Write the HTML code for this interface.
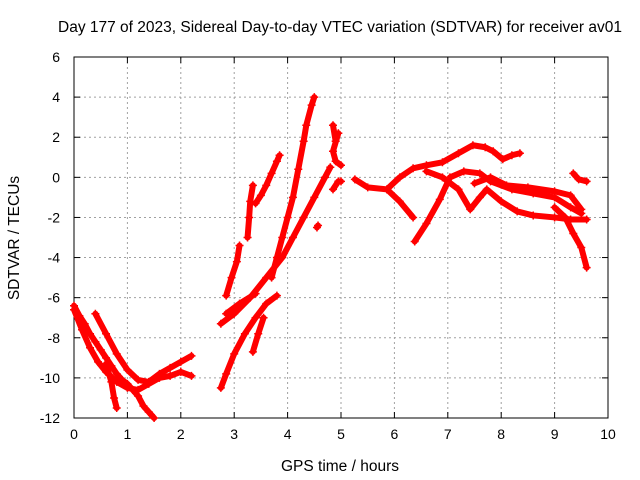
<!DOCTYPE html>
<html><head><meta charset="utf-8"><style>
body{margin:0;background:#fff}
svg{display:block;font-family:"Liberation Sans",sans-serif}
</style></head><body>
<svg id="chart" width="640" height="480">
<text x="340" y="32" font-size="15.5" text-anchor="middle">Day 177 of 2023, Sidereal Day-to-day VTEC variation (SDTVAR) for receiver av01</text>
<g id="grid"></g>
<g id="axes"></g>
<g id="marks"></g>
<text x="340" y="471" font-size="15.5" text-anchor="middle">GPS time / hours</text>
<text transform="translate(19,238) rotate(-90)" font-size="15.5" text-anchor="middle">SDTVAR / TECUs</text>
</svg>
<script>
const xTicks=[0,1,2,3,4,5,6,7,8,9,10];
const yTicks=[6,4,2,0,-2,-4,-6,-8,-10,-12];
const track1=[[0,-6.4],[0.1,-6.9],[0.2,-7.3],[0.3,-7.8],[0.4,-8.2],[0.5,-8.6],[0.6,-9.0],[0.7,-9.4],[0.8,-9.8],[0.9,-10.1],[1.0,-10.3],[1.1,-10.6],[1.2,-10.9],[1.3,-11.4],[1.4,-11.7],[1.5,-12]];
const track2=[[0,-6.6],[0.15,-7.6],[0.3,-8.5],[0.45,-9.2],[0.6,-9.7],[0.8,-10.2],[1.0,-10.5],[1.2,-10.6],[1.4,-10.3],[1.6,-10.0],[1.8,-9.9],[2.0,-9.7],[2.2,-9.9]];
const track3=[[0.4,-6.8],[0.6,-7.8],[0.8,-8.8],[1.0,-9.6],[1.2,-10.1],[1.4,-10.2],[1.6,-9.8],[1.8,-9.5],[2.0,-9.2],[2.2,-8.9]];
const track4=[[0.6,-9.3],[0.7,-10.2],[0.75,-11.0],[0.8,-11.5]];
const track5=[[2.75,-10.5],[2.85,-9.8],[3.0,-8.8],[3.2,-7.8],[3.4,-7.0],[3.6,-6.3],[3.8,-5.9]];
const track6=[[2.75,-7.3],[3.0,-6.8],[3.3,-6.0],[3.6,-5.0],[3.9,-4.0],[4.1,-3.0],[4.3,-2.0],[4.5,-1.0],[4.7,0.0],[4.8,0.5]];
const track7=[[2.85,-6.8],[3.1,-6.3],[3.4,-5.8]];
const track8=[[2.85,-5.9],[2.95,-5.0],[3.05,-4.2],[3.1,-3.4]];
const track9=[[3.25,-3.0],[3.28,-2.0],[3.3,-1.2],[3.35,-0.4]];
const track10=[[3.4,-1.3],[3.5,-0.9],[3.6,-0.4],[3.7,0.2],[3.8,0.8],[3.85,1.1]];
const track11=[[3.7,-5.0],[3.8,-4.0],[3.9,-3.0],[4.0,-2.0],[4.1,-1.0],[4.2,0.4],[4.3,1.8],[4.35,2.6],[4.45,3.6],[4.5,4.0]];
const track12=[[3.35,-8.7],[3.45,-7.8],[3.55,-7.0]];
const track13=[[4.85,2.6],[4.9,1.8],[4.95,2.2],[4.85,1.3],[4.9,0.8],[5.0,0.6]];
const track13b=[[4.55,-2.5],[4.57,-2.4]];
const track14=[[4.85,-0.6],[4.95,-0.2],[5.0,-0.2]];
const track15=[[5.26,-0.1],[5.5,-0.5],[5.86,-0.6],[6.1,0.0],[6.35,0.45],[6.6,0.6],[6.9,0.75],[7.2,1.2],[7.47,1.6],[7.7,1.5],[7.85,1.3],[8.03,0.9],[8.2,1.1],[8.35,1.2]];
const track16=[[5.86,-0.6],[6.1,-1.2],[6.35,-2.0]];
const track17=[[6.38,-3.2],[6.6,-2.3],[6.85,-1.1],[7.04,0.0],[7.3,0.3],[7.6,0.2],[7.8,-0.2],[8.2,-0.6],[8.6,-0.8],[9.0,-1.0],[9.3,-1.5],[9.5,-1.8]];
const track18=[[6.6,0.3],[6.9,0.0],[7.2,-0.6],[7.42,-1.6],[7.6,-1.0],[7.73,-0.6],[8.0,-1.2],[8.3,-1.7],[8.6,-1.9],[9.0,-2.0],[9.3,-2.1],[9.6,-2.1]];
const track19=[[7.5,-0.3],[7.8,0.0],[8.1,-0.4],[8.5,-0.5],[9.0,-0.7],[9.3,-0.9],[9.5,-1.6]];
const track20=[[9.0,-1.5],[9.2,-2.0],[9.35,-2.8],[9.5,-3.5],[9.6,-4.5]];
const track21=[[9.35,0.2],[9.45,-0.1],[9.6,-0.2]];
const tracks=[track1,track2,track3,track4,track5,track6,track7,track8,track9,track10,track11,track12,track13,track13b,track14,track15,track16,track17,track18,track19,track20,track21];
const L=74,R=608,T=57,B=418;
const sx=h=>L+h*(R-L)/10;
const sy=v=>T+(6-v)*(B-T)/18;
const NS="http://www.w3.org/2000/svg";
function mk(tag,attrs,parent){const e=document.createElementNS(NS,tag);for(const k in attrs)e.setAttribute(k,attrs[k]);parent.appendChild(e);return e;}
const grid=document.getElementById('grid'),axes=document.getElementById('axes'),marks=document.getElementById('marks');
xTicks.forEach(t=>{const x=sx(t);
 if(t>0&&t<10){const g=mk('line',{x1:x,x2:x,y1:T,y2:B,stroke:'#a0a0a0','stroke-dasharray':'2,3'},grid);}
 mk('line',{x1:x,x2:x,y1:B,y2:B-6,stroke:'#000'},axes);mk('line',{x1:x,x2:x,y1:T,y2:T+6,stroke:'#000'},axes);
 const lb=mk('text',{x:x,y:B+21,'font-size':14,'text-anchor':'middle'},axes);lb.textContent=t;
 });
yTicks.forEach(t=>{const y=sy(t);
 if(t<6&&t>-12){const g=mk('line',{x1:L,x2:R,y1:y,y2:y,stroke:'#a0a0a0','stroke-dasharray':'2,3'},grid);}
 mk('line',{x1:L,x2:L+6,y1:y,y2:y,stroke:'#000'},axes);mk('line',{x1:R,x2:R-6,y1:y,y2:y,stroke:'#000'},axes);
 const lb=mk('text',{x:L-14,y:y+5,'font-size':14,'text-anchor':'end'},axes);lb.textContent=t;
 });
mk('rect',{x:L,y:T,width:R-L,height:B-T,fill:'none',stroke:'#000'},axes);
tracks.forEach((tr,i)=>{
 const pl=mk('polyline',{points:tr.map(p=>sx(p[0])+','+sy(p[1])).join(' '),fill:'none',stroke:'#f00','stroke-width':6,'stroke-linejoin':'round','stroke-linecap':'round'},marks);
 
 
 tr.forEach(p=>{const x=sx(p[0]),y=sy(p[1]);
  const m=mk('path',{d:`M${x-4},${y}H${x+4}M${x},${y-4}V${y+4}`,stroke:'#f00','stroke-width':1.5},marks);
  
  });
});
</script>
</body></html>
